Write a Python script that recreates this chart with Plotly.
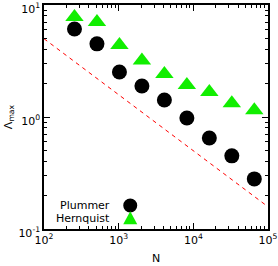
import plotly.graph_objects as go

N = [256, 512, 1024, 2048, 4096, 8192, 16384, 32768, 65536]
plummer = [6.1, 4.5, 2.52, 1.89, 1.42, 0.98, 0.65, 0.45, 0.28]
hernquist = [7.8, 7.05, 4.4, 3.2, 2.42, 1.93, 1.67, 1.33, 1.15]
N_line = [100, 100000]
line_vals = [5.0, 0.158]

x_tickvals = [100, 1000, 10000, 100000]
x_ticktext = ["10<sup>2</sup>", "10<sup>3</sup>", "10<sup>4</sup>", "10<sup>5</sup>"]
y_tickvals = [0.1, 1, 10]
y_ticktext = ["10<sup>-1</sup>", "10<sup>0</sup>", "10<sup>1</sup>"]
x_minor = [m * d for d in [100, 1000, 10000] for m in range(2, 10)]
y_minor = [m * d for d in [0.1, 1] for m in range(2, 10)]

green = "#11ee00"

fig = go.Figure()
fig.add_trace(go.Scatter(x=N_line, y=line_vals, mode="lines",
                         line=dict(color="red", width=1, dash="4px,4px"),
                         showlegend=False))
fig.add_trace(go.Scatter(x=N, y=hernquist, mode="markers", name="Hernquist",
                         marker=dict(symbol="triangle-up", size=16, color=green)))
fig.add_trace(go.Scatter(x=N, y=plummer, mode="markers", name="Plummer",
                         marker=dict(symbol="circle", size=15, color="black")))

def axis_common(minor_vals):
    return dict(type="log", showgrid=False, zeroline=False, showline=True,
                linecolor="black", linewidth=1.5, mirror="ticks",
                ticks="inside", ticklen=6, tickwidth=1, tickcolor="black",
                ticklabeloverflow="allow", automargin=False,
                minor=dict(tickmode="array", tickvals=minor_vals, ticks="inside",
                           ticklen=3, tickcolor="black", showgrid=False),
                tickfont=dict(family="DejaVu Sans", size=11, color="black"))

fig.update_xaxes(range=[2, 5], tickmode="array", tickvals=x_tickvals, ticktext=x_ticktext,
                 title=dict(text="N", standoff=8,
                            font=dict(family="DejaVu Sans", size=11, color="black")),
                 **axis_common(x_minor))
fig.update_yaxes(range=[-1, 1], tickmode="array", tickvals=y_tickvals, ticktext=y_ticktext,
                 ticklabelshift=4,
                 title=dict(text="Λ<sub>max</sub>", standoff=4,
                            font=dict(family="DejaVu Sans", size=11, color="black")),
                 **axis_common(y_minor))

# legend drawn as text + symbol (symbol to the right of the label)
fig.add_annotation(xref="paper", yref="paper", x=0.305, y=0.105, text="Plummer",
                   showarrow=False, xanchor="right", yanchor="middle",
                   font=dict(family="DejaVu Sans", size=11, color="black"))
fig.add_annotation(xref="paper", yref="paper", x=0.305, y=0.048, text="Hernquist",
                   showarrow=False, xanchor="right", yanchor="middle",
                   font=dict(family="DejaVu Sans", size=11, color="black"))
fig.add_shape(type="circle", xref="paper", yref="paper", xsizemode="pixel", ysizemode="pixel",
              xanchor=0.385, yanchor=0.105, x0=-7, x1=7, y0=-7, y1=7,
              fillcolor="black", line=dict(width=0))
fig.add_shape(type="path", xref="paper", yref="paper", xsizemode="pixel", ysizemode="pixel",
              xanchor=0.385, yanchor=0.048, path="M -7,-6 L 7,-6 L 0,7 Z",
              fillcolor=green, line=dict(width=0))

fig.update_layout(width=278, height=266, margin=dict(l=44, r=10, t=5, b=37),
                  paper_bgcolor="white", plot_bgcolor="white", showlegend=False)

fig.write_html("out.html")
